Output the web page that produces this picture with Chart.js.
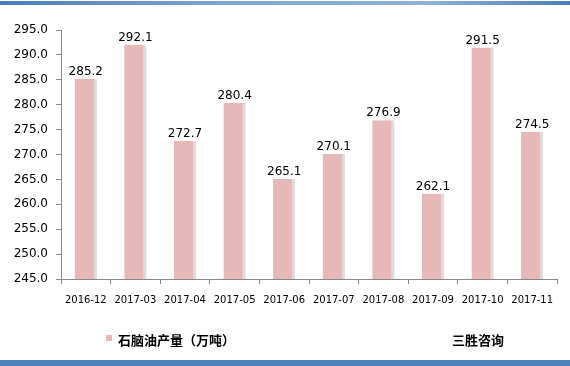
<!DOCTYPE html>
<html>
<head>
<meta charset="utf-8">
<script src="https://cdn.jsdelivr.net/npm/chart.js@4/dist/chart.umd.min.js"></script>
<style>
    body { margin: 0; background: #fff; }
    #wrap { width: 570px; height: 366px; position: relative; }
</style>
</head>
<body>
<div id="wrap"><canvas id="GC1" width="570" height="366"></canvas></div>
<script>
// datos del grafico
var categorias = ["2016-12", "2017-03", "2017-04", "2017-05", "2017-06", "2017-07", "2017-08", "2017-09", "2017-10", "2017-11"];
var produccion = [285.2, 292.1, 272.7, 280.4, 265.1, 270.1, 276.9, 262.1, 291.5, 274.5];
var etiquetaSerie = "石脑油产量（万吨）";
var fuenteTexto = "三胜咨询";
var ejeMin = 245;
var ejeMax = 295;
var ejePaso = 5;

// marco azul, leyenda y etiquetas de valor
var pluginExtras = {
    id: "extras",
    beforeDraw: function (chart) {
        var ctx = chart.ctx;
        ctx.save();
        ctx.fillStyle = "#ffffff";
        ctx.fillRect(0, 0, chart.width, chart.height);
        var g = ctx.createLinearGradient(0, 0, chart.width, 0);
        g.addColorStop(0, "#4a7ebb");
        g.addColorStop(0.4, "#7fa6d3");
        g.addColorStop(0.75, "#8fb1da");
        g.addColorStop(1, "#4a7ebb");
        ctx.fillStyle = g;
        ctx.fillRect(0, 1, chart.width, 4);
        ctx.fillStyle = "#4f81bd";
        ctx.fillRect(0, 360, chart.width, 6);
        ctx.restore();
    },
    afterDatasetsDraw: function (chart) {
        var ctx = chart.ctx;
        var meta = chart.getDatasetMeta(0);
        ctx.save();
        ctx.font = "12px 'DejaVu Sans'";
        ctx.fillStyle = "#000";
        ctx.textAlign = "center";
        ctx.textBaseline = "bottom";
        meta.data.forEach(function (bar, i) {
            ctx.fillText(produccion[i].toFixed(1), bar.x, bar.y - 1);
        });
        // leyenda
        ctx.fillStyle = "#e6b8b7";
        ctx.fillRect(106, 335, 6, 6);
        ctx.fillStyle = "#000";
        ctx.textAlign = "left";
        ctx.textBaseline = "middle";
        ctx.font = "bold 13px 'Noto Sans CJK SC'";
        ctx.fillText(etiquetaSerie, 118, 340);
        ctx.fillText(fuenteTexto, 452, 340);
        ctx.restore();
    }
};

new Chart(document.getElementById("GC1"), {
    type: 'bar',
    data: {
        labels: categorias,
        datasets: [{
            data: produccion,
            label: etiquetaSerie,
            backgroundColor: "#e6b8b7",
            borderColor: "#dcdcdc",
            borderWidth: { top: 0, right: 3, bottom: 0, left: 0 },
            borderSkipped: false,
            barPercentage: 0.9,
            categoryPercentage: 0.5
        }]
    },
    options: {
        responsive: false,
        animation: false,
        layout: { padding: { left: 0, right: 13, top: 30, bottom: 0 } },
        plugins: {
            legend: { display: false },
            tooltip: { enabled: false }
        },
        scales: {
            x: {
                offset: true,
                grid: { drawOnChartArea: false, drawTicks: true, tickLength: 5, offset: true, color: "#888" },
                border: { display: true, color: "#888" },
                ticks: { color: "#000", font: { family: "DejaVu Sans", size: 10 }, padding: 10, maxRotation: 0, autoSkip: false },
                afterFit: function (s) { s.height = 87; }
            },
            y: {
                min: ejeMin,
                max: ejeMax,
                grid: { drawOnChartArea: false, drawTicks: true, tickLength: 5, color: "#888" },
                border: { display: true, color: "#888" },
                ticks: {
                    stepSize: ejePaso,
                    color: "#000",
                    font: { family: "DejaVu Sans", size: 12 },
                    padding: 8,
                    callback: function (v) { return v.toFixed(1); }
                },
                afterFit: function (s) { s.width = 61; }
            }
        }
    },
    plugins: [pluginExtras]
});
</script>
</body>
</html>
